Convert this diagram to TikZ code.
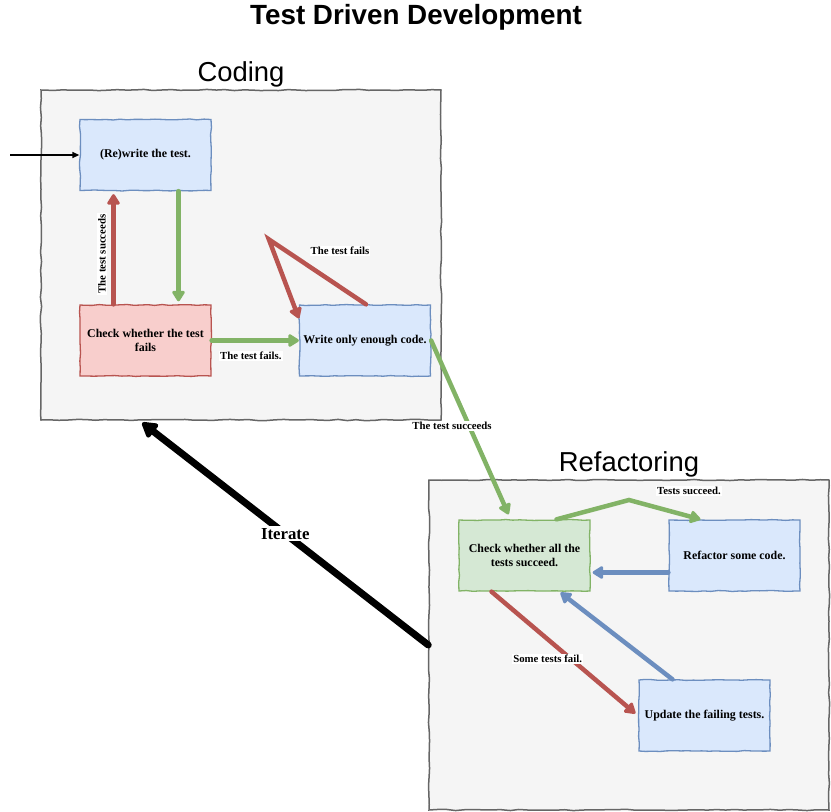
\documentclass[tikz,border=0pt]{standalone}
\usepackage{fontspec}
\setmainfont{Liberation Serif}
\newfontfamily\headfont{Liberation Sans}
\usetikzlibrary{positioning,arrows.meta,decorations.pathmorphing}
\definecolor{grpfill}{HTML}{F5F5F5}
\definecolor{grpline}{HTML}{666666}
\definecolor{bluefill}{HTML}{DAE8FC}
\definecolor{blueline}{HTML}{6C8EBF}
\definecolor{redfill}{HTML}{F8CECC}
\definecolor{redline}{HTML}{B85450}
\definecolor{greenfill}{HTML}{D5E8D4}
\definecolor{greenline}{HTML}{82B366}
\begin{document}
\pgfmathsetseed{7}
\begin{tikzpicture}[x=1pt, y=-1pt,
    group/.style={draw=grpline, fill=grpfill, line width=1.5pt,
                  minimum width=400pt, minimum height=330pt,
                  decorate, decoration={random steps, segment length=9pt, amplitude=0.6pt}},
    box/.style={draw, rectangle, line width=1.3pt, minimum width=131pt,
                minimum height=71pt, align=center, inner sep=2pt,
                font=\fontsize{11.9}{14}\selectfont\bfseries,
                decorate, decoration={random steps, segment length=7pt, amplitude=0.5pt}},
    heading/.style={font=\headfont\fontsize{27.4}{30}\selectfont, inner sep=0pt},
    lbl/.style={fill=white, text=black, inner sep=1pt, font=\fontsize{10.8}{12}\selectfont\bfseries},
    flow/.style={line width=4.5pt, line cap=round, -{Triangle[length=12pt,width=14pt,round]}}
]
\useasboundingbox (0,0) rectangle (831,812);

\node (title) [heading, font=\headfont\bfseries\fontsize{27.8}{30}\selectfont] at (416,17) {Test Driven Development};

\node (coding) [group] at (241,255) {};
\node (codingtitle) [heading, above=2pt of coding] {Coding};
\node (refactoring) [group] at (629,645) {};
\node (refactoringtitle) [heading, above=2pt of refactoring] {Refactoring};

\node (rewrite) [box, draw=blueline, fill=bluefill] at (145.5,155) {(Re)write the test.};
\node (checkfail) [box, draw=redline, fill=redfill, below of=rewrite, node distance=185.5pt] {Check whether the test\\fails};
\node (writecode) [box, draw=blueline, fill=bluefill, right of=checkfail, node distance=219.5pt] {Write only enough code.};
\node (checkall) [box, draw=greenline, fill=greenfill] at (524.5,555.5) {Check whether all the\\tests succeed.};
\node (refactor) [box, draw=blueline, fill=bluefill, right of=checkall, node distance=210pt] {Refactor some code.};
\node (update) [box, draw=blueline, fill=bluefill, below of=refactor, node distance=160pt, xshift=-30pt] {Update the failing tests.};

\coordinate (start) at (10,155);
\coordinate (loop) at ([xshift=-30pt, yshift=65pt]writecode.north west);
\coordinate (peak) at (629,500);
\coordinate (iterend) at ([xshift=102pt, yshift=-2pt]coding.south west);

\draw [line width=1.3pt, -{Triangle[length=7pt,width=6pt]}] (start) -- (rewrite.west);
\draw [flow, redline] ([xshift=-32pt]checkfail.north) -- ([xshift=-32pt, yshift=-3pt]rewrite.south);
\node (lblsucc) [lbl, rotate=90] at (102,254) {The test succeeds};
\draw [flow, greenline] ([xshift=33pt]rewrite.south) -- ([xshift=33pt, yshift=3pt]checkfail.north);
\draw [flow, greenline] (checkfail.east) -- (writecode.west)
    node [lbl, below=8pt, pos=0.45] (lblfails) {The test fails.};
\draw [flow, redline] ([xshift=1pt]writecode.north) -- (loop) -- ([yshift=-14pt]writecode.north west);
\node (lblloop) [lbl] at (340,251) {The test fails};
\draw [flow, greenline] (writecode.east) -- ([xshift=-16pt, yshift=5pt]checkall.north)
    node [lbl, pos=0.49, xshift=-17pt] (lblpass) {The test succeeds};
\draw [flow, greenline] ([xshift=32pt]checkall.north) -- (peak) -- ([xshift=-34pt]refactor.north);
\node (lblall) [lbl] at (689,491) {Tests succeed.};
\draw [flow, blueline] ([yshift=-17pt]refactor.west) -- ([xshift=2pt, yshift=-17pt]checkall.east);
\draw [flow, redline] ([xshift=-33pt]checkall.south) -- ([xshift=-3pt, yshift=2pt]update.west)
    node [lbl, pos=0.55, xshift=-23pt] (lblsome) {Some tests fail.};
\draw [flow, blueline] ([xshift=-32pt]update.north) -- ([xshift=36pt, yshift=-1pt]checkall.south);
\draw [line width=7pt, line cap=round, -{Triangle[length=17pt,width=19pt,round]}] (refactoring.west) -- (iterend)
    node [lbl, pos=0.5, inner sep=2pt, font=\fontsize{16.8}{18}\selectfont\bfseries] (lbliter) {Iterate};
\end{tikzpicture}
\end{document}
